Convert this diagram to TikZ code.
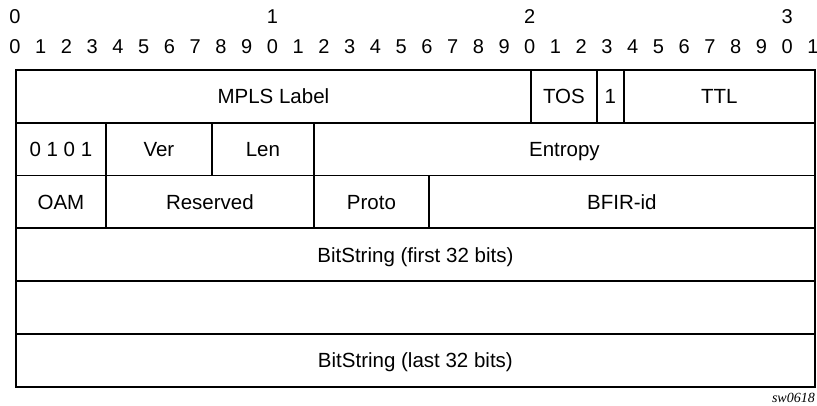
\documentclass[tikz,border=0pt]{standalone}
\usepackage{fontspec}
\setmainfont{Liberation Sans}
\newfontfamily\tagfont{Liberation Serif}
\usepackage{tikz}
\tikzset{
  field/.style={draw, line width=1.8pt, anchor=north west, inner sep=0pt,
    minimum height=52.8pt, text height=17pt, text depth=2pt,
    font=\fontsize{20.5}{23}\selectfont},
  bitnum/.style={inner sep=0pt, font=\fontsize{20}{22}\selectfont},
}

\begin{document}
\begin{tikzpicture}[x=1pt, y=-1pt]
            \useasboundingbox (0,0) rectangle (817,406);
            \foreach \k in {0,...,31} {
              \pgfmathtruncatemacro{\d}{mod(\k,10)}
              \node[bitnum] (u\k) at (15+25.74*\k, 47) {\d};
            }
            \foreach \k/\t in {0/0, 10/1, 20/2, 30/3}
              \node[bitnum] (t\k) at (15+25.74*\k, 17) {\t};
            \node[field, minimum width=515pt] (mpls) at (15,69) {MPLS Label};
            \node[field, minimum width=66pt] (tos) at (530,69) {TOS};
            \node[field, minimum width=27pt] (sbit) at (596,69) {1};
            \node[field, minimum width=191pt] (ttl) at (623,69) {TTL};
            \node[field, minimum width=90pt] (nibble) at (15,121.8) {0 1 0 1};
            \node[field, minimum width=106pt] (ver) at (105,121.8) {Ver};
            \node[field, minimum width=102pt] (len) at (211,121.8) {Len};
            \node[field, minimum width=501pt] (entropy) at (313,121.8) {Entropy};
            \node[field, minimum width=90pt] (oam) at (15,174.6) {OAM};
            \node[field, minimum width=208pt] (rsv) at (105,174.6) {Reserved};
            \node[field, minimum width=115pt] (proto) at (313,174.6) {Proto};
            \node[field, minimum width=386pt] (bfir) at (428,174.6) {BFIR-id};
            \node[field, minimum width=799pt] (bsfirst) at (15,227.4) {BitString (first 32 bits)};
            \node[field, minimum width=799pt] (bsmid) at (15,280.2) {};
            \node[field, minimum width=799pt] (bslast) at (15,333) {BitString (last 32 bits)};
            \node[anchor=east, inner sep=0pt, font=\tagfont\itshape\fontsize{14}{16}\selectfont] (tag) at (815,398) {sw0618};
        \end{tikzpicture}
\end{document}
